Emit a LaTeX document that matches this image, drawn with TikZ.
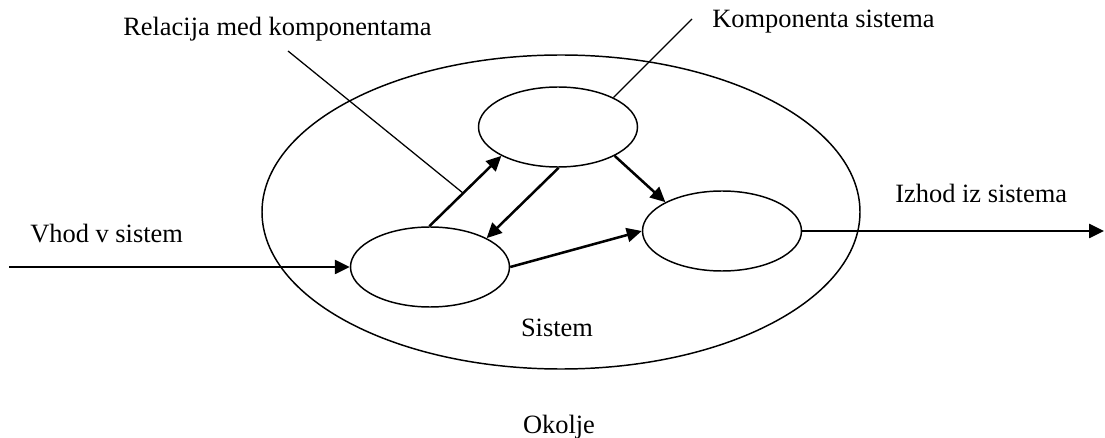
\documentclass[tikz,border=0pt]{standalone}
\usepackage{fontspec}
\setmainfont{Liberation Serif}
\usetikzlibrary{shapes.geometric,arrows.meta}

\tikzset{
  sistem/.style={ellipse, draw, line width=1.05pt, inner sep=0pt, minimum width=14.95cm, minimum height=7.85cm},
  komp/.style={ellipse, draw, line width=1.05pt, inner sep=0pt, minimum width=3.975cm, minimum height=2cm},
  arrow/.style={-{Triangle[length=0.375cm, width=0.35cm]}, line width=1.8pt},
  kazalo/.style={line width=0.9pt},
  napis/.style={inner sep=0pt, font=\fontsize{18.8}{22}\selectfont},
}

\begin{document}
\begin{tikzpicture}
  \useasboundingbox (0,0) rectangle (27.625,-10.95);

  % Sistem in komponente
  \node[sistem] (sis)   at (14.025, -5.3)   {};
  \node[komp]   (zgor)  at (13.95,  -3.175) {};
  \node[komp]   (levo)  at (10.75,  -6.675) {};
  \node[komp]   (desno) at (18.05,  -5.775) {};

  % Vhod in izhod
  \coordinate (vhod)  at (0.225, -6.675);
  \coordinate (izhod) at (27.6,  -5.775);

  % Napisi
  \node[napis, anchor=base west] (trel)   at (3.075, -0.9)   {Relacija med komponentama};
  \node[napis, anchor=base west] (tkomp)  at (17.8,  -0.7)   {Komponenta sistema};
  \node[napis, anchor=base west] (tvhod)  at (0.75,  -6.075) {Vhod v sistem};
  \node[napis, anchor=base west] (tizhod) at (22.375,-5.075) {Izhod iz sistema};
  \node[napis, anchor=base] (tsis)  at (13.925, -8.4)   {Sistem};
  \node[napis, anchor=base] (tokol) at (13.975, -10.825) {Okolje};

  % Povezave
  \draw[arrow] (vhod) -- (levo.west);
  \draw[arrow] (desno.east) -- (izhod);
  \draw[arrow] (levo.91) -- coordinate[pos=0.47] (relpt) (zgor.207);
  \draw[arrow] (zgor.271) -- (levo.27);
  \draw[arrow] (zgor.333) -- (desno.153.6);
  \draw[arrow] (levo.east) -- (desno.west);

  % Kazalne crte
  \coordinate (relz)  at (7.2, -1.275);
  \coordinate (kompz) at (17.3, -0.475);
  \draw[kazalo] (relz) -- (relpt);
  \draw[kazalo] (kompz) -- (zgor.28);
\end{tikzpicture}
\end{document}
